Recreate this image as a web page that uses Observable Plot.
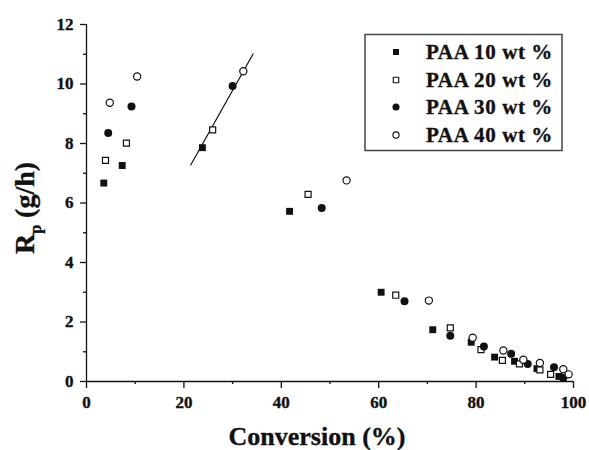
<!DOCTYPE html>
<html><head><meta charset="utf-8">
<script src="https://cdn.jsdelivr.net/npm/d3@7"></script>
<script src="https://cdn.jsdelivr.net/npm/@observablehq/plot@0.6"></script>
<style>
body{margin:0;background:#fff;}
#wrap{position:relative;width:589px;height:450px;font-family:"Liberation Serif","Times New Roman",serif;}
#wrap svg.overlay{position:absolute;left:0;top:0;pointer-events:none;}
#wrap svg text{font-family:"Liberation Serif","Times New Roman",serif !important;font-weight:bold !important;stroke:#111;stroke-width:0.35px;}
</style></head><body><div id="wrap"></div>
<script>
const seriesNames = ["PAA 10 wt %", "PAA 20 wt %", "PAA 30 wt %", "PAA 40 wt %"];
const conv10 = [3.55, 7.33, 23.8, 41.7, 60.5, 71.1, 79.0, 83.8, 87.9, 92.5, 97.0];
const rp10   = [6.67, 7.26, 7.86, 5.72, 3.00, 1.74, 1.32, 0.82, 0.68, 0.43, 0.17];
const conv20 = [3.9, 8.2, 25.9, 45.5, 63.5, 74.7, 81.0, 85.4, 88.9, 93.1, 95.3];
const rp20   = [7.43, 8.01, 8.46, 6.29, 2.90, 1.80, 1.07, 0.71, 0.59, 0.39, 0.24];
const conv30 = [4.46, 9.24, 30.0, 48.3, 65.3, 74.7, 81.6, 87.2, 90.6, 96.0, 97.9];
const rp30   = [8.35, 9.24, 9.93, 5.83, 2.70, 1.54, 1.18, 0.93, 0.59, 0.48, 0.12];
const conv40 = [4.78, 10.4, 32.2, 53.4, 70.3, 79.3, 85.6, 89.7, 93.1, 97.9, 99.0];
const rp40   = [9.37, 10.25, 10.43, 6.76, 2.72, 1.47, 1.04, 0.73, 0.62, 0.41, 0.24];
const fitConv = [21.4, 34.2];
const fitRp   = [7.28, 11.01];
const xTicks = [0, 20, 40, 60, 80, 100];
const xMinor = [10, 30, 50, 70, 90];
const yTicks = [0, 2, 4, 6, 8, 10, 12];
const yMinor = [1, 3, 5, 7, 9, 11];
const xTitle = "Conversion (%)";

const toRows = (xs, ys, s) => xs.map((x, i) => ({conv: x, rp: ys[i], series: s}));
const d10 = toRows(conv10, rp10, seriesNames[0]);
const d20 = toRows(conv20, rp20, seriesNames[1]);
const d30 = toRows(conv30, rp30, seriesNames[2]);
const d40 = toRows(conv40, rp40, seriesNames[3]);
const fit = fitConv.map((x, i) => ({conv: x, rp: fitRp[i]}));

const ink = "#111";
const font = '"Liberation Serif", "Times New Roman", serif';
const chart = Plot.plot({
  width: 589, height: 450,
  marginLeft: 86, marginRight: 16, marginTop: 24, marginBottom: 69,
  x: {domain: [0, 100]},
  y: {domain: [0, 12]},
  style: {fontFamily: font, fontSize: "17px", fontWeight: "bold", color: ink, background: "white"},
  marks: [
    Plot.axisX(xMinor, {tickSize: 3, tickFormat: () => "", label: null, stroke: ink, strokeWidth: 1.3}),
    Plot.axisX(xTicks, {tickSize: 7, tickPadding: 7, label: null, stroke: ink, strokeWidth: 1.3}),
    Plot.axisY(yMinor, {tickSize: 3, tickFormat: () => "", label: null, stroke: ink, strokeWidth: 1.3}),
    Plot.axisY(yTicks, {tickSize: 6, tickPadding: 7, label: null, stroke: ink, strokeWidth: 1.3}),
    Plot.ruleY([0], {stroke: ink, strokeWidth: 1.3}),
    Plot.ruleX([0], {stroke: ink, strokeWidth: 1.3}),
    Plot.line(fit, {x: "conv", y: "rp", stroke: ink, strokeWidth: 1.2}),
    Plot.dot(d10, {x: "conv", y: "rp", symbol: "square", r: 3.9, fill: ink, stroke: "none"}),
    Plot.dot(d20, {x: "conv", y: "rp", symbol: "square", r: 3.4, fill: "white", stroke: ink, strokeWidth: 1.2}),
    Plot.dot(d30, {x: "conv", y: "rp", symbol: "circle", r: 4, fill: ink, stroke: "none"}),
    Plot.dot(d40, {x: "conv", y: "rp", symbol: "circle", r: 3.6, fill: "white", stroke: ink, strokeWidth: 1.2})
  ]
});
const wrap = document.getElementById("wrap");
wrap.appendChild(chart);
d3.select(chart).selectAll("text")
  .style("font-size", "17px").style("font-weight", "bold").style("font-family", font).style("fill", ink);

// overlay: titles and legend
const ov = d3.select(wrap).append("svg").attr("class", "overlay")
  .attr("width", 589).attr("height", 450)
  .style("font-family", font)
  .style("font-weight", "bold").style("fill", ink);

ov.append("text").attr("x", 317).attr("y", 445).attr("text-anchor", "middle")
  .attr("font-size", 26).text(xTitle);

const yt = ov.append("text").attr("transform", "translate(34,208) rotate(-90)")
  .attr("text-anchor", "middle").attr("font-size", 28);
yt.append("tspan").text("R");
yt.append("tspan").attr("font-size", 16).attr("dy", 7).text("p");
yt.append("tspan").attr("dy", -7).text(" (g/h)");

const lg = ov.append("g");
lg.append("rect").attr("x", 365).attr("y", 34.5).attr("width", 197).attr("height", 116)
  .attr("fill", "none").attr("stroke", "#444").attr("stroke-width", 1.5);
const rowsY = [52, 80, 107, 135];
const legSyms = [
  {t: d3.symbolSquare, fill: ink, stroke: "none", size: 36},
  {t: d3.symbolSquare, fill: "white", stroke: ink, size: 30},
  {t: d3.symbolCircle, fill: ink, stroke: "none", size: 40},
  {t: d3.symbolCircle, fill: "white", stroke: ink, size: 30}
];
seriesNames.forEach((name, i) => {
  const s = legSyms[i];
  lg.append("path").attr("d", d3.symbol(s.t, s.size)())
    .attr("transform", `translate(396,${rowsY[i]})`)
    .attr("fill", s.fill).attr("stroke", s.stroke).attr("stroke-width", 1.1);
  lg.append("text").attr("x", 426).attr("y", rowsY[i]).attr("dy", "0.35em")
    .attr("font-size", 21).attr("letter-spacing", 0.6).text(name);
});
</script>
</body></html>
